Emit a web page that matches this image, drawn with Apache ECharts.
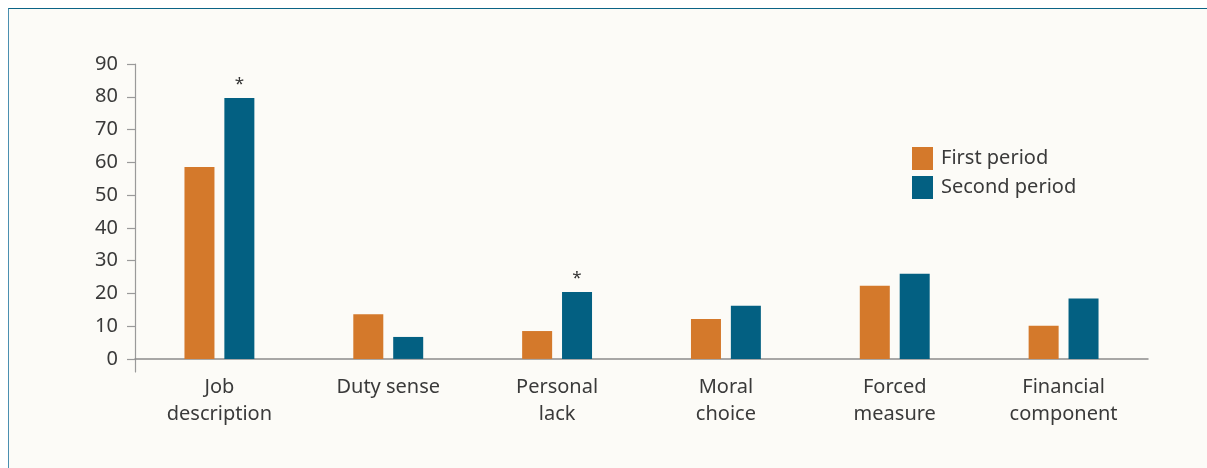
<!DOCTYPE html>
<html>
<head>
<meta charset="utf-8">
<script src="https://cdn.jsdelivr.net/npm/echarts@6/dist/echarts.min.js"></script>
<style>
  html, body { margin: 0; padding: 0; background: #ffffff; }
  #frame { position: absolute; left: 8px; top: 8px; width: 1199px; height: 460px;
           border-top: 1.5px solid #0b6486; border-left: 1.5px solid #4a8fb0; background: #fcfbf7; box-sizing: border-box; }
  #chart { position: absolute; left: 0; top: 0; width: 1207px; height: 468px; }
</style>
</head>
<body>
<div id="frame"></div>
<div id="chart"></div>
<script>
const categories = ['Job\ndescription', 'Duty sense', 'Personal\nlack', 'Moral\nchoice', 'Forced\nmeasure', 'Financial\ncomponent'];
const seriesNames = ['First period', 'Second period'];
const firstPeriod = [58.6, 13.6, 8.5, 12.2, 22.3, 10.1];
const secondPeriod = [79.6, 6.7, 20.4, 16.2, 26.0, 18.4];
const significant = [true, false, true, false, false, false];
const yTicks = [0, 10, 20, 30, 40, 50, 60, 70, 80, 90];

const FONT = 'Noto Sans';
const TXT = '#3a3a3a';
const chart = echarts.init(document.getElementById('chart'), null, { renderer: 'canvas' });

const secondData = secondPeriod.map((v, i) => ({
  value: v,
  label: { show: significant[i], formatter: '*', position: 'top', distance: 5,
           fontSize: 17, color: '#333', fontFamily: FONT }
}));

chart.setOption({
  backgroundColor: 'transparent',
  animation: false,
  textStyle: { fontFamily: FONT },
  grid: { left: 135, right: 59, top: 64, bottom: 96, containLabel: false },
  legend: {
    orient: 'vertical', left: 912, top: 147, padding: 0, itemWidth: 21, itemHeight: 23, itemGap: 6,
    icon: 'rect',
    textStyle: { fontSize: 20, color: TXT, fontFamily: FONT, padding: [5, 0, 0, 3] },
    data: seriesNames
  },
  xAxis: {
    type: 'category',
    data: categories,
    axisLine: { onZero: true, lineStyle: { color: '#8c8c8c', width: 1.5 } },
    axisTick: { show: false },
    axisLabel: { color: TXT, fontSize: 20, lineHeight: 27, margin: 2, interval: 0, fontFamily: FONT }
  },
  yAxis: {
    type: 'value',
    min: -4, max: 90,
    splitLine: { show: false },
    axisLine: { show: true, lineStyle: { color: '#9a9a9a', width: 1.2 } },
    axisTick: { show: true, length: 8, customValues: yTicks, lineStyle: { color: '#9a9a9a', width: 1.2 } },
    axisLabel: { customValues: yTicks, color: TXT, fontSize: 20, margin: 17, fontFamily: FONT }
  },
  series: [
    { name: seriesNames[0], type: 'bar', data: firstPeriod, barWidth: 30, barGap: '33%',
      itemStyle: { color: '#d4792b' } },
    { name: seriesNames[1], type: 'bar', data: secondData, barWidth: 30, barGap: '33%',
      itemStyle: { color: '#036082' } }
  ]
});
</script>
</body>
</html>
